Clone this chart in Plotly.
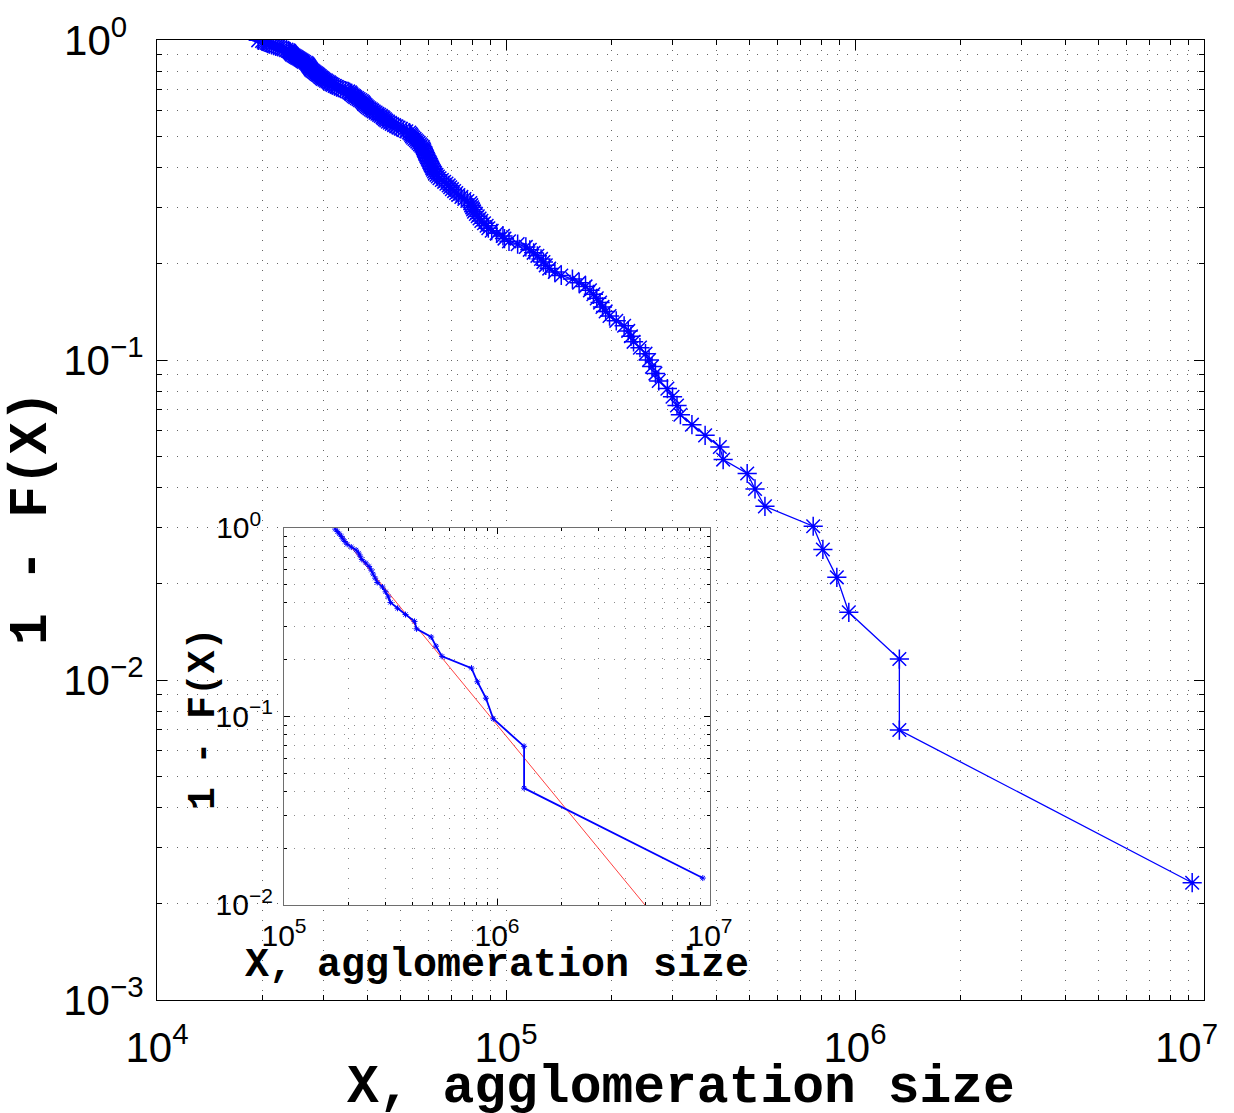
import plotly.graph_objects as go

# Agglomeration sizes, largest first
sizes = [9.25e6, 1.34e6, 1.34e6, 9.6e5, 8.87e5, 8.09e5, 7.59e5, 5.52e5, 5.17e5, 4.91e5,
         4.19e5, 4.10e5, 3.72e5, 3.41e5, 3.16e5, 3.09e5, 3.0e5, 2.9e5, 2.74e5, 2.68e5,
         2.62e5, 2.57e5, 2.51e5, 2.42e5, 2.32e5, 2.28e5, 2.24e5, 2.18e5, 2.07e5, 1.98e5,
         1.93e5, 1.89e5, 1.86e5, 1.82e5, 1.78e5, 1.74e5, 1.69e5, 1.62e5, 1.55e5, 1.44e5,
         1.38e5, 1.33e5, 1.30e5, 1.28e5, 1.26e5, 1.23e5, 1.20e5, 1.17e5, 1.14e5, 1.08e5,
         1.02e5, 9.9e4, 9.8e4, 9.4e4, 9.1e4, 8.9e4, 8.8e4, 8.65e4, 8.5e4, 8.4e4,
         8.3e4, 8.2e4, 8.1e4, 8.05e4, 8.0e4, 7.95e4, 7.9e4, 7.75e4, 7.6e4, 7.45e4,
         7.3e4, 7.2e4, 7.1e4, 7.0e4, 6.92e4, 6.85e4, 6.75e4, 6.65e4, 6.55e4, 6.45e4,
         6.38e4, 6.32e4, 6.26e4, 6.22e4, 6.18e4, 6.15e4, 6.12e4, 6.09e4, 6.06e4, 6.03e4,
         6.0e4, 5.97e4, 5.94e4, 5.91e4, 5.88e4, 5.86e4, 5.84e4, 5.82e4, 5.80e4, 5.78e4,
         5.72e4, 5.67e4, 5.62e4, 5.57e4, 5.52e4, 5.47e4, 5.42e4, 5.38e4, 5.35e4, 5.32e4,
         5.28e4, 5.18e4, 5.08e4, 5.0e4, 4.92e4, 4.85e4, 4.78e4, 4.71e4, 4.65e4, 4.59e4,
         4.54e4, 4.50e4, 4.46e4, 4.43e4, 4.38e4, 4.33e4, 4.28e4, 4.23e4, 4.18e4, 4.14e4,
         4.10e4, 4.06e4, 4.02e4, 3.99e4, 3.96e4, 3.93e4, 3.91e4, 3.89e4, 3.86e4, 3.82e4,
         3.78e4, 3.74e4, 3.70e4, 3.67e4, 3.64e4, 3.61e4, 3.59e4, 3.57e4, 3.53e4, 3.47e4,
         3.41e4, 3.36e4, 3.31e4, 3.27e4, 3.23e4, 3.19e4, 3.16e4, 3.13e4, 3.11e4, 3.08e4,
         3.05e4, 3.02e4, 2.99e4, 2.97e4, 2.95e4, 2.93e4, 2.91e4, 2.89e4, 2.87e4, 2.85e4,
         2.83e4, 2.81e4, 2.79e4, 2.77e4, 2.76e4, 2.75e4, 2.74e4, 2.73e4, 2.72e4, 2.71e4,
         2.70e4, 2.69e4, 2.67e4, 2.64e4, 2.62e4, 2.60e4, 2.58e4, 2.56e4, 2.54e4, 2.52e4,
         2.50e4, 2.48e4, 2.46e4, 2.44e4, 2.43e4, 2.42e4, 2.41e4, 2.40e4, 2.39e4, 2.38e4,
         2.35e4, 2.31e4, 2.28e4, 2.25e4, 2.22e4, 2.19e4, 2.16e4, 2.13e4, 2.10e4, 2.08e4,
         2.06e4, 2.04e4, 2.02e4, 2.0e4, 1.95e4]

tail_count = 36                  # largest agglomerations shown in the inset
fit_x = [1.74e5, 1.0e7]          # power-law fit (red line)
fit_y = [1.0, 0.0038]

main_xticks = [1e4, 1e5, 1e6, 1e7]
main_xlabels = ["10<sup>4</sup>", "10<sup>5</sup>", "10<sup>6</sup>",
                "10<sup>7</sup>\u00a0\u00a0\u00a0"]
main_yticks = [1e-3, 1e-2, 1e-1, 1]
main_ylabels = ["10<sup>−3</sup>", "10<sup>−2</sup>", "10<sup>−1</sup>",
                "10<sup>0\u00a0\u00a0</sup>"]
inset_xticks = [1e5, 1e6, 1e7]
inset_xlabels = ["10<sup>5</sup>", "10<sup>6</sup>", "10<sup>7</sup>"]
inset_yticks = [1e-2, 1e-1, 1]
inset_ylabels = ["10<sup>−2</sup>", "10<sup>−1</sup>", "10<sup>0\u00a0\u00a0</sup>"]

# empirical complementary CDF
n = len(sizes)
ccdf = [(r + 0.5) / n for r in range(n)]
tail = sizes[:tail_count]
tail_ccdf = [(r + 0.5) / tail_count for r in range(tail_count)]


def minors(e0, e1):
    return [m * 10.0 ** e for e in range(e0, e1) for m in range(2, 10)]


BLUE = "rgb(0,0,255)"
GRID = "rgba(0,0,0,0.6)"
DOTS = "1px,9px"
TICKFONT = "Liberation Sans, Arial, sans-serif"
MONO = "Liberation Mono, Courier New, monospace"

fig = go.Figure()
fig.add_trace(go.Scatter(
    x=sizes, y=ccdf, mode="lines+markers", xaxis="x", yaxis="y",
    line=dict(color=BLUE, width=1.3),
    marker=dict(symbol="asterisk-open", size=16, color=BLUE,
                line=dict(color="rgba(0,0,255,0.75)", width=1.5)),
    showlegend=False))
fig.add_trace(go.Scatter(
    x=fit_x, y=fit_y, mode="lines", xaxis="x2", yaxis="y2",
    line=dict(color="rgba(255,0,0,0.75)", width=1), showlegend=False))
fig.add_trace(go.Scatter(
    x=tail, y=tail_ccdf, mode="lines+markers", xaxis="x2", yaxis="y2",
    line=dict(color=BLUE, width=1.8),
    marker=dict(symbol="asterisk-open", size=5, color=BLUE,
                line=dict(color=BLUE, width=1)),
    showlegend=False))


def axis(rng, ticks, labels, minor_vals, size, domain, anchor, linecolor,
         ticklen, standoff, gridcolor):
    return dict(
        type="log", range=rng, domain=domain, anchor=anchor, automargin=False,
        showline=True, linecolor=linecolor, linewidth=1.2, mirror="ticks",
        ticks="inside", ticklen=ticklen, tickcolor="black", tickwidth=1,
        tickvals=ticks, ticktext=labels, ticklabelstandoff=standoff,
        ticklabeloverflow="allow",
        tickfont=dict(family=TICKFONT, size=size, color="black"),
        showgrid=True, gridcolor=gridcolor, griddash=DOTS, gridwidth=1,
        minor=dict(tickvals=minor_vals, ticks="inside", ticklen=ticklen // 2,
                   tickcolor="black", showgrid=True, gridcolor=gridcolor,
                   griddash=DOTS, gridwidth=1),
        zeroline=False, fixedrange=True)


fig.update_layout(
    width=1234, height=1113,
    margin=dict(l=157, r=30, t=40, b=113, autoexpand=False),
    paper_bgcolor="white", plot_bgcolor="white",
    xaxis=axis([4, 7], main_xticks, main_xlabels, minors(4, 7), 42, [0, 1], "y",
               "black", 10, 10, GRID),
    yaxis=axis([-3, 0], main_yticks, main_ylabels, minors(-3, 0), 42, [0, 1], "x",
               "black", 10, 4, GRID),
    xaxis2=axis([5, 7], inset_xticks, inset_xlabels, minors(5, 7), 30,
                [0.1213, 0.5282], "y2", "rgb(110,110,110)", 6, 4, "rgba(0,0,0,0.45)"),
    yaxis2=axis([-2, 0], inset_yticks, inset_ylabels, minors(-2, 0), 30,
                [0.099, 0.4917], "x2", "rgb(110,110,110)", 6, 4, "rgba(0,0,0,0.45)"),
    annotations=[
        dict(text="<b>X, agglomeration size</b>", xref="paper", yref="paper",
             x=0.5005, y=-0.0915, xanchor="center", yanchor="middle", showarrow=False,
             font=dict(family=MONO, size=53, color="black")),
        dict(text="<b>1 - F(X)</b>", xref="paper", yref="paper",
             x=-0.1194, y=0.502, xanchor="center", yanchor="middle", showarrow=False,
             textangle=-90, font=dict(family=MONO, size=53, color="black")),
        dict(text="<b>X, agglomeration size</b>", xref="paper", yref="paper",
             x=0.3243, y=0.0355, xanchor="center", yanchor="middle", showarrow=False,
             font=dict(family=MONO, size=40, color="black")),
        dict(text="<b>1 - F(X)</b>", xref="paper", yref="paper",
             x=0.0440, y=0.2927, xanchor="center", yanchor="middle", showarrow=False,
             textangle=-90, font=dict(family=MONO, size=38, color="black")),
    ],
)

fig.write_html("out.html", config={"displayModeBar": False},
               post_script="document.body.style.margin='0';"
                           "document.body.style.overflow='hidden';")
